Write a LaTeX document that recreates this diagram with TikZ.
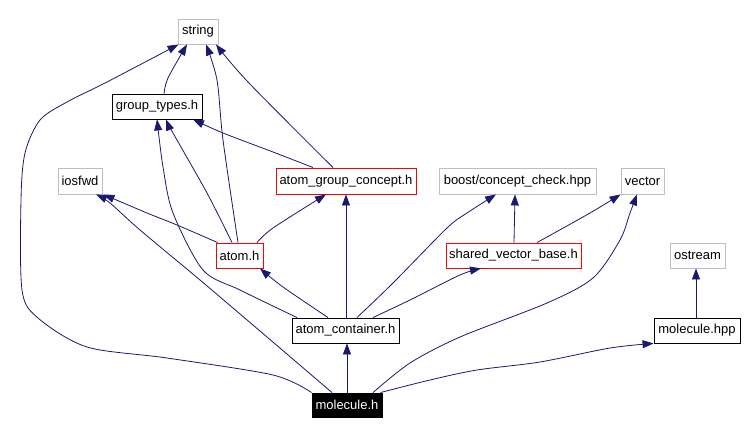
\documentclass[tikz,border=0pt]{standalone}
\usepackage{fontspec}
\setmainfont{Liberation Sans}
\usetikzlibrary{arrows.meta}
\definecolor{edgeblue}{HTML}{191970}
\definecolor{boxgray}{HTML}{BFBFBF}
\begin{document}
\begin{tikzpicture}[x=1pt,y=-1pt,
  box/.style={draw, rectangle, minimum height=25pt, inner sep=0pt,
    font=\fontsize{13}{14}\selectfont, line width=0.9pt},
  extbox/.style={box, draw=boxgray},
  redbox/.style={box, draw=red},
  blackbox/.style={box, draw=black},
  mainbox/.style={box, draw=black, fill=black, text=white},
  edge/.style={draw=edgeblue, line width=0.8pt, -{Triangle[length=11pt,width=8pt]}}
]
\fill[white] (0,0) rectangle (746,435);
\useasboundingbox (0,0) rectangle (746,435);

\node[extbox, minimum width=40pt] (str) at (198,31.5) {string};
\node[blackbox, minimum width=90pt] (gt) at (157,106.5) {group\_types.h};
\node[extbox, minimum width=44pt, minimum height=26pt] (ios) at (80,181) {iosfwd};
\node[redbox, minimum width=140pt, minimum height=26pt] (agc) at (346,181) {atom\_group\_concept.h};
\node[extbox, minimum width=157pt, minimum height=26pt] (boost) at (517.5,181) {boost/concept\_check.hpp};
\node[extbox, minimum width=43pt, minimum height=26pt] (vec) at (642.5,181) {vector};
\node[redbox, minimum width=47pt] (atom) at (239.5,255.5) {atom.h};
\node[redbox, minimum width=135pt] (svb) at (513.5,255.5) {shared\_vector\_base.h};
\node[extbox, minimum width=55pt] (ost) at (697.5,255.5) {ostream};
\node[blackbox, minimum width=107pt] (ac) at (345.5,330.5) {atom\_container.h};
\node[blackbox, minimum width=86pt] (mhpp) at (697,330.5) {molecule.hpp};
\node[mainbox, minimum width=70pt, minimum height=24pt] (molh) at (347,405) {molecule.h};

% edges to string
\draw[edge] plot[smooth] coordinates {([xshift=7pt]gt.north) (168,78) ([xshift=-11pt]str.south)};
\draw[edge] plot[smooth] coordinates {([xshift=-1.5pt]atom.north) (223,140) (217,80) ([xshift=8pt]str.south)};
\draw[edge] plot[smooth] coordinates {([xshift=-13pt]agc.north) (248,82) ([xshift=18pt]str.south)};
\draw[edge] plot[smooth] coordinates {(molh.north west) (273,375) (167,358) (87,347) (38,318) (22,290) (21,200) (25,153) (40,120) (67,102) (107,82) ([xshift=1pt]str.south west)};
% edges to group_types
\draw[edge] plot[smooth] coordinates {([xshift=-33pt]agc.north) (273,152) (223,133) ([xshift=36pt]gt.south)};
\draw[edge] plot[smooth] coordinates {([xshift=-7.5pt]atom.north) (207,193) (173,133) ([xshift=9pt]gt.south)};
\draw[edge] plot[smooth] coordinates {([xshift=-48.5pt]ac.north) (240,290) (203,270) (173,213) (163,167) (gt.south)};
% edges to iosfwd
\draw[edge] plot[smooth] coordinates {([xshift=2pt]atom.north west) (177,225) (147,213) ([xshift=1pt]ios.south east)};
\draw[edge] plot[smooth] coordinates {([xshift=-15pt]molh.north) (267,337) (200,280) (140,230) (110,203) ([xshift=16pt]ios.south)};
% edges to atom_group_concept
\draw[edge] plot[smooth] coordinates {([xshift=17.5pt]atom.north) (273,228) ([xshift=-20pt]agc.south)};
\draw[edge] (ac.north -| agc.south) -- (agc.south);
% atom_container to atom.h
\draw[edge] plot[smooth] coordinates {([xshift=-17.5pt]ac.north) (283,287) ([xshift=20.5pt]atom.south)};
% to boost
\draw[edge] plot[smooth] coordinates {([xshift=11.5pt]ac.north) (393,283) (447,228) (467,213) ([xshift=-21.5pt]boost.south)};
\draw[edge] ([xshift=0.5pt]svb.north) -- ([xshift=-2.5pt]boost.south);
% to shared_vector_base
\draw[edge] plot[smooth] coordinates {([xshift=27.5pt]ac.north) (410,300) (460,275) ([xshift=-32.5pt]svb.south)};
% to vector
\draw[edge] plot[smooth] coordinates {([xshift=23.5pt]svb.north) (590,213) (vec.south west)};
\draw[edge] plot[smooth] coordinates {([xshift=26pt]molh.north) (410,363) (460,337) (547,303) (593,278) (620,240) (630,213) ([xshift=-5.5pt]vec.south)};
% ostream
\draw[edge] ([xshift=-1pt]mhpp.north) -- ([xshift=-1.5pt]ost.south);
% molecule.hpp
\draw[edge] plot[smooth] coordinates {([xshift=-2pt]molh.north east) (430,380) (477,370) (540,362) (610,348) (mhpp.south west)};
% atom_container
\draw[edge] (molh.north) -- (molh.north |- ac.south);
\end{tikzpicture}
\end{document}
